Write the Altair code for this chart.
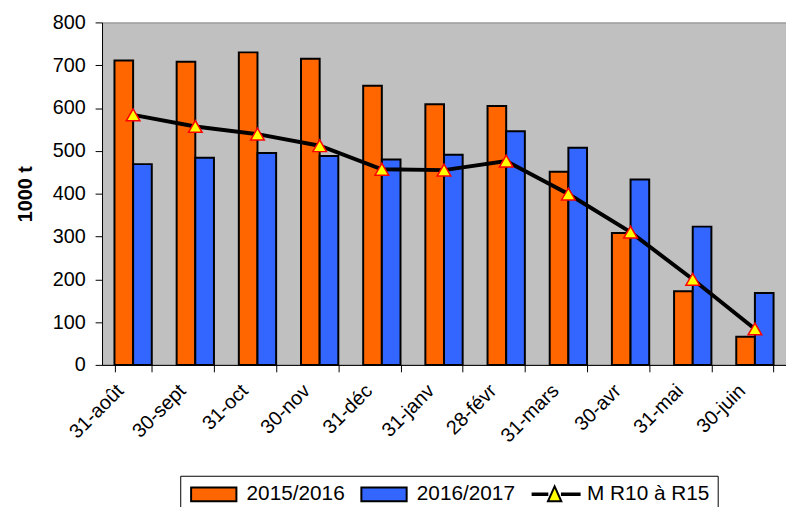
import altair as alt
import pandas as pd

categories = ["31-août", "30-sept", "31-oct", "30-nov", "31-déc", "31-janv",
              "28-févr", "31-mars", "30-avr", "31-mai", "30-juin"]
series_names = ["2015/2016", "2016/2017", "M R10 à R15"]
values_2015 = [711, 708, 730, 715, 652, 609, 605, 451, 308, 172, 66]
values_2016 = [469, 484, 495, 488, 480, 491, 546, 507, 433, 323, 168]
values_mean = [584, 557, 539, 512, 457, 455, 476, 399, 310, 200, 84]
# legend fills: bars orange / blue, line marker yellow
fill_colors = ["#FF6600", "#3366FF", "#FFFF00"]
outline_colors = ["#000000", "#000000", "#000000"]
# legend symbol paths (unit = half of the 15px symbol slot; drawn rightwards from slot start)
RECT = "M-1,-0.93H5.1V0.93H-1Z"
LINE_TRI = ("M-1,-0.09H1.25M2.95,-0.09H5.6M-1,0.09H1.25M2.95,0.09H5.6"
            "M-1,0H1.25M2.95,0H5.6"
            "M2.1,-1.05L3.0,0.95L1.2,0.95Z")
shapes = [RECT, RECT, LINE_TRI]

bars_df = pd.DataFrame({
    "cat": categories * 2,
    "series": [series_names[0]] * len(categories) + [series_names[1]] * len(categories),
    "value": values_2015 + values_2016,
})
line_df = pd.DataFrame({
    "cat": categories,
    "series": [series_names[2]] * len(categories),
    "value": values_mean,
})
legend_df = pd.DataFrame({"cat": pd.Series([], dtype=str),
                          "series": pd.Series([], dtype=str),
                          "value": pd.Series([], dtype=float)})

FONT = "Liberation Sans"
fill_scale = alt.Scale(domain=series_names, range=fill_colors)
stroke_scale = alt.Scale(domain=series_names, range=outline_colors)
shape_scale = alt.Scale(domain=series_names, range=shapes)

x_enc = alt.X(
    "cat:N", sort=categories,
    scale=alt.Scale(paddingInner=0.4, paddingOuter=0.2),
    axis=alt.Axis(title=None, labelAngle=-45, labelAlign="right", labelBaseline="alphabetic",
                  tickBand="extent", labelFontSize=20, labelFont=FONT, labelColor="black",
                  tickColor="black", domainColor="black", tickSize=7, labelPadding=20,
                  labelOffset=-9, labelOverlap=False, labelBound=False),
)
y_enc = alt.Y(
    "value:Q",
    scale=alt.Scale(domain=[0, 800], nice=False),
    axis=alt.Axis(title="1000 t", values=list(range(0, 801, 100)), grid=False,
                  labelFontSize=20, labelFont=FONT, labelColor="black",
                  tickColor="black", domainColor="black", tickSize=7, labelPadding=10,
                  titleFont=FONT, titleFontSize=20, titleFontWeight="bold",
                  titleColor="black", titlePadding=17),
)

legend = alt.Legend(
    title=None, orient="none", legendX=79, legendY=458, direction="horizontal",
    strokeColor="black", padding=8, labelFont=FONT, labelFontSize=21, labelColor="black",
    symbolSize=225, columnPadding=12, labelOffset=38, fillColor="white",
    symbolStrokeWidth=2, symbolStrokeColor="black", symbolOpacity=1,
)

bars = alt.Chart(bars_df).mark_bar(stroke="#000000", strokeWidth=2, strokeOpacity=1,
                                   opacity=1).encode(
    x=x_enc,
    xOffset=alt.XOffset("series:N", sort=series_names[:2],
                        scale=alt.Scale(paddingInner=0, paddingOuter=0)),
    y=y_enc,
    fill=alt.Fill("series:N", scale=fill_scale, legend=legend),
)
line = alt.Chart(line_df).mark_line(strokeWidth=4, color="black").encode(x=x_enc, y=y_enc)
points = alt.Chart(line_df).mark_point(
    shape="triangle-up", filled=True, fill="#FFFF00", stroke="#FF0000",
    strokeWidth=1.5, size=190, opacity=1,
).encode(x=x_enc, y=y_enc)
legend_carrier = alt.Chart(legend_df).mark_point(
    filled=True, strokeWidth=2, opacity=1,
).encode(
    x=x_enc, y=y_enc,
    fill=alt.Fill("series:N", scale=fill_scale, legend=legend),
    stroke=alt.Stroke("series:N", scale=stroke_scale, legend=legend),
    shape=alt.Shape("series:N", scale=shape_scale, legend=legend),
)

chart = alt.layer(bars, line, points, legend_carrier).properties(
    width=691, height=346,
    background="white",
    autosize=alt.AutoSizeParams(type="none"),
    padding={"left": 95, "top": 12, "right": 0, "bottom": 141},
).configure_view(fill="#C0C0C0", stroke="#808080", strokeWidth=1)

chart.save("out.html", embed_options={"renderer": "svg", "actions": False})
